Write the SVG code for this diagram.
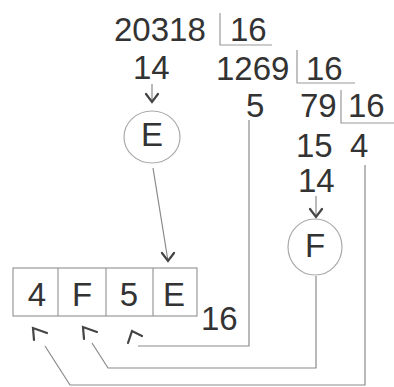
<svg xmlns="http://www.w3.org/2000/svg" width="394" height="387" viewBox="0 0 394 387">
<style>
text{font-family:"Liberation Sans",Arial,sans-serif;font-size:33px;fill:#333}
.ln{fill:none;stroke:#8a8a8a;stroke-width:1.2}
.div{fill:none;stroke:#999;stroke-width:1.2}
.circ{fill:none;stroke:#aaa;stroke-width:1.2}
.box{fill:none;stroke:#999;stroke-width:1.2}
.ah{fill:none;stroke:#444;stroke-width:2.2;stroke-linecap:round;stroke-linejoin:miter}
</style>
<rect width="394" height="387" fill="#fff"/>
<g id="div1">
<text x="114" y="41">20318</text>
<polyline class="div" points="220,13 220,45 272,45"/>
<text x="230" y="41">16</text>
<text x="133" y="79">14</text>
</g>
<g id="div2">
<text x="216" y="80">1269</text>
<polyline class="div" points="297,50 297,83 355,83"/>
<text x="306" y="80">16</text>
<text x="246" y="117">5</text>
</g>
<g id="div3">
<text x="300" y="117">79</text>
<polyline class="div" points="341,90 341,123 394,123"/>
<text x="348" y="117">16</text>
<text x="296" y="157">15</text>
<text x="350" y="157">4</text>
<text x="298" y="192">14</text>
</g>
<g id="nodeE">
<ellipse class="circ" cx="152" cy="137" rx="28" ry="26"/>
<text x="152" y="146" text-anchor="middle">E</text>
</g>
<g id="nodeF">
<ellipse class="circ" cx="315" cy="247" rx="27" ry="28"/>
<text x="315" y="257" text-anchor="middle">F</text>
</g>
<g id="result">
<rect class="box" x="13" y="268" width="184" height="48"/>
<line class="box" x1="58" y1="268" x2="58" y2="316"/>
<line class="box" x1="106" y1="268" x2="106" y2="316"/>
<line class="box" x1="153" y1="268" x2="153" y2="316"/>
<text x="37" y="306" text-anchor="middle">4</text>
<text x="82" y="306" text-anchor="middle">F</text>
<text x="129" y="306" text-anchor="middle">5</text>
<text x="174" y="306" text-anchor="middle">E</text>
<text x="201" y="330">16</text>
</g>
<g id="connectors">
<line class="ln" x1="152" y1="84" x2="152" y2="102"/>
<polyline class="ah" points="146,94 152,102 158,94"/>
<line class="ln" x1="153" y1="168" x2="168" y2="261"/>
<polyline class="ah" points="162,253 168,261 174,253"/>
<line class="ln" x1="316" y1="196" x2="316" y2="217"/>
<polyline class="ah" points="310,209 316,217 322,209"/>
<polyline class="ln" points="249,120 249,346 138,346"/>
<polyline class="ah" points="128,343 132,331 142,336"/>
<polyline class="ln" points="316,276 316,368 108,368 92,343"/>
<polyline class="ah" points="84,339 83,327 97,332"/>
<polyline class="ln" points="365,165 365,385 70,385 45,346"/>
<polyline class="ah" points="34,340 33,328 47,333"/>
</g>
</svg>
